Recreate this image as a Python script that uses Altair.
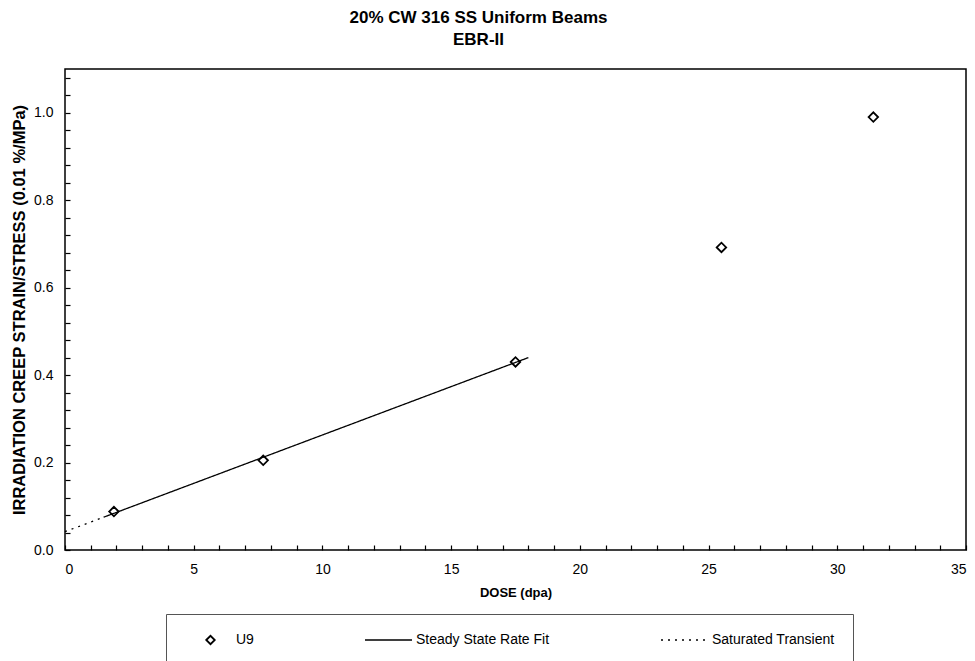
import altair as alt
import pandas as pd

# ---- data ----
dose_u9 = [1.9, 7.7, 17.5, 25.5, 31.4]
strain_u9 = [0.088, 0.205, 0.430, 0.692, 0.990]

fit_dose = [1.5, 18.0]
fit_strain = [0.075, 0.440]
trans_dose = [0.0, 1.5]
trans_strain = [0.042, 0.075]

series_names = ["U9", "Steady State Rate Fit", "Saturated Transient"]

x_labels = [0, 5, 10, 15, 20, 25, 30, 35]
x_minor = list(range(0, 36))
y_labels = [0.0, 0.2, 0.4, 0.6, 0.8, 1.0]
y_minor = [0.0, 0.04, 0.08, 0.12, 0.16, 0.2, 0.24, 0.28, 0.32, 0.36, 0.4,
           0.44, 0.48, 0.52, 0.56, 0.6, 0.64, 0.68, 0.72, 0.76, 0.8, 0.84,
           0.88, 0.92, 0.96, 1.0, 1.04, 1.08]

FONT = "Liberation Sans"
W, H = 901, 481

pts = pd.DataFrame({"dose": dose_u9, "strain": strain_u9, "series": "U9"})
lines_df = pd.concat([
    pd.DataFrame({"dose": fit_dose, "strain": fit_strain, "series": "Steady State Rate Fit"}),
    pd.DataFrame({"dose": trans_dose, "strain": trans_strain, "series": "Saturated Transient"}),
])

xscale = alt.Scale(domain=[0, 35], nice=False, zero=False)
yscale = alt.Scale(domain=[0, 1.1], nice=False, zero=False)

# line-style legend (box + all three labels; U9 entry has no visible line)
dash_scale = alt.Scale(domain=series_names, range=[[0, 100], [1, 0], [2, 5]])
dash_legend = alt.Legend(
    title=None, orient="none", legendX=101, legendY=545, direction="horizontal",
    columns=3, padding=18, strokeColor="#555555", symbolType="stroke",
    symbolSize=2209, clipHeight=16, columnPadding=110, labelFont=FONT,
    labelFontSize=14, labelOffset=3, symbolStrokeColor="black",
    symbolStrokeWidth=1.3, symbolOpacity=1, labelLimit=300, labelColor="black",
)
# marker legend: diamond placed in the U9 slot of the box
shape_scale = alt.Scale(domain=["U9"], range=["diamond"])
shape_legend = alt.Legend(
    title=None, orient="none", legendX=140, legendY=563, direction="horizontal",
    padding=0, symbolSize=72, clipHeight=16, labelExpr="''", symbolStrokeWidth=1.8,
)

x_main_axis = alt.Axis(orient="bottom", values=x_labels, format="d", title="DOSE (dpa)",
                       ticks=False, tickSize=0, domain=False, grid=False, labelPadding=12,
                       labelFont=FONT, labelFontSize=14, labelColor="black",
                       titleFont=FONT, titleFontSize=13, titleFontWeight="bold",
                       titleColor="black", titlePadding=10)
y_main_axis = alt.Axis(orient="left", values=y_labels, format=".1f",
                       title="IRRADIATION CREEP STRAIN/STRESS (0.01 %/MPa)",
                       ticks=False, tickSize=0, domain=False, grid=False, labelPadding=12,
                       labelFont=FONT, labelFontSize=14, labelColor="black",
                       titleFont=FONT, titleFontSize=16.5, titleFontWeight="bold",
                       titleColor="black", titlePadding=6)
x_tick_axis = alt.Axis(orient="top", offset=-H, values=x_minor, labels=False, ticks=True,
                       tickSize=5, tickColor="black", tickWidth=1.2, domain=False,
                       grid=False, title=None)
y_tick_axis = alt.Axis(orient="right", offset=-W, values=y_minor, labels=False, ticks=True,
                       tickSize=5, tickColor="black", tickWidth=1.2, domain=False,
                       grid=False, title=None)

points = alt.Chart(pts).mark_point(color="black", strokeWidth=1.8, size=90, opacity=1).encode(
    x=alt.X("dose:Q", scale=xscale, axis=x_main_axis),
    y=alt.Y("strain:Q", scale=yscale, axis=y_main_axis),
    shape=alt.Shape("series:N", scale=shape_scale, legend=shape_legend),
)

lines = alt.Chart(lines_df).mark_line(color="black", strokeWidth=1.3).encode(
    x=alt.X("dose:Q", scale=xscale, axis=x_tick_axis),
    y=alt.Y("strain:Q", scale=yscale, axis=y_tick_axis),
    strokeDash=alt.StrokeDash("series:N", scale=dash_scale, legend=dash_legend),
)

chart = alt.layer(lines, points).properties(
    width=W, height=H,
    title=alt.Title(["20% CW 316 SS Uniform Beams", "EBR-II"], font=FONT, fontSize=17,
                    fontWeight="bold", color="black", anchor="middle", dx=-37,
                    offset=20, lineHeight=22),
    autosize=alt.AutoSizeParams(type="none"),
    padding={"left": 65, "top": 69, "right": 9, "bottom": 111},
    background="white",
).resolve_axis(x="independent", y="independent").configure_view(
    stroke="black", strokeWidth=1.5
)

chart.save("out.html", embed_options={"renderer": "svg", "actions": False})
